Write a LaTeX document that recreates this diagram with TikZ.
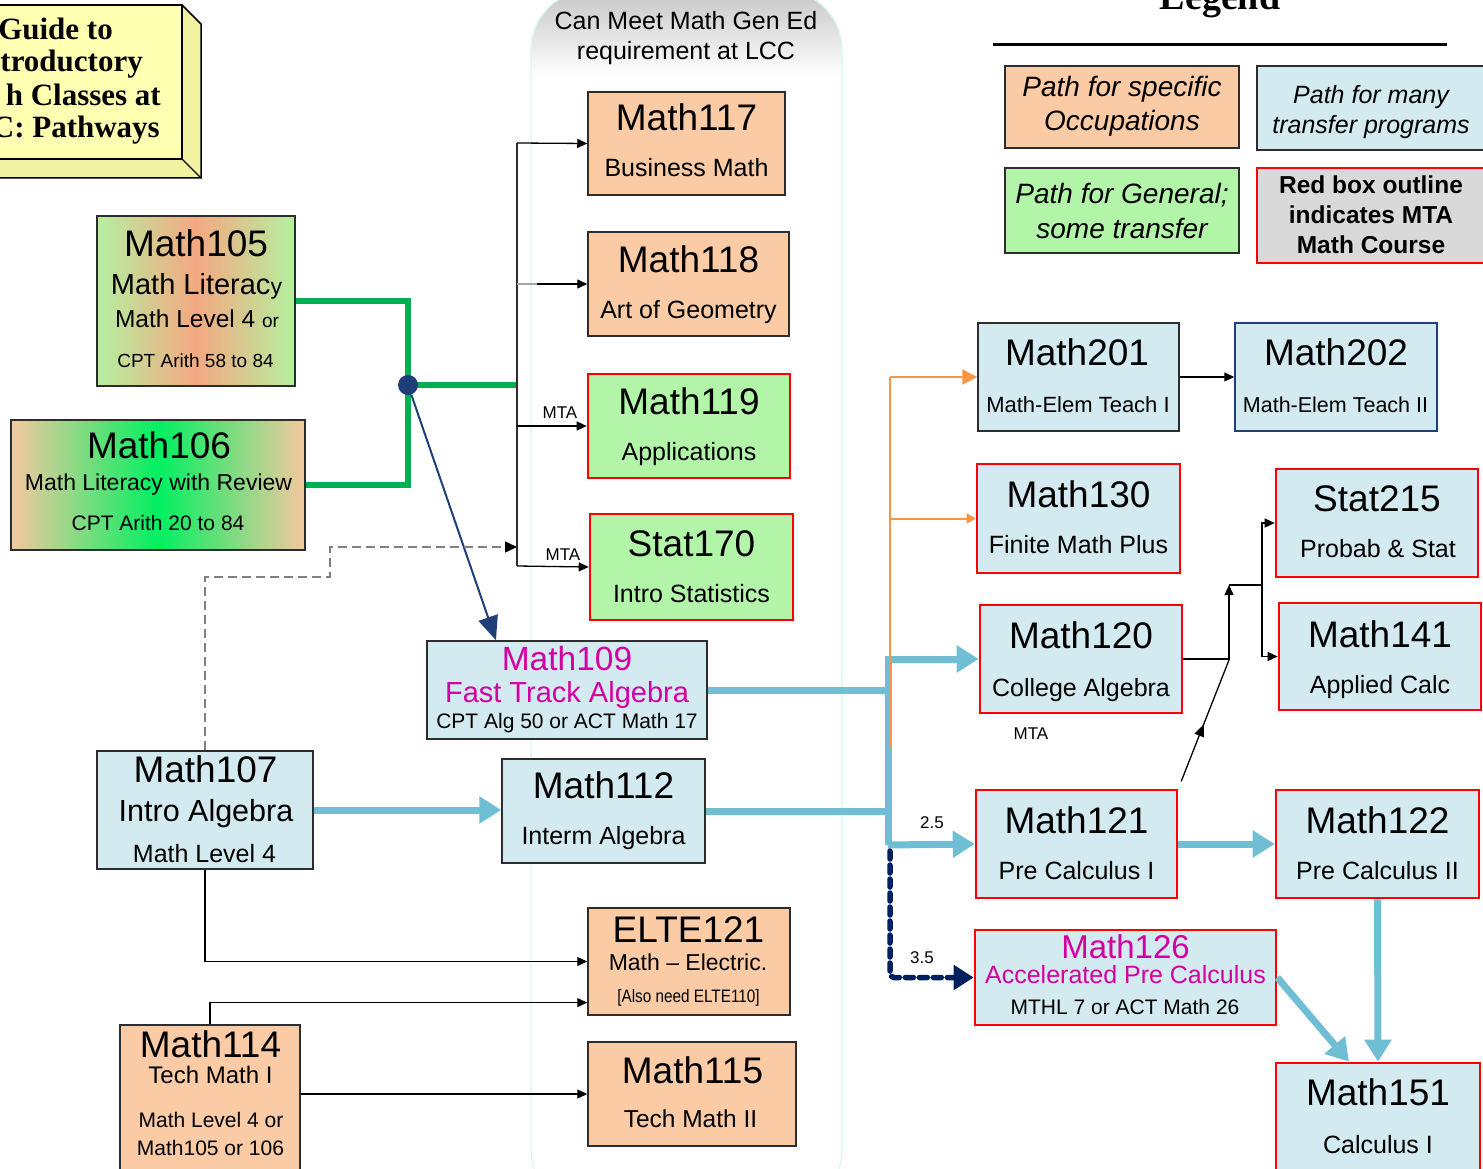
\documentclass[tikz,border=0pt]{standalone}
\usepackage{fontspec}
\setmainfont{Liberation Sans}
\newfontfamily\titlefont{Liberation Serif}
\newfontfamily\narrowfont[FakeStretch=0.85]{Liberation Sans}
\usetikzlibrary{arrows.meta,decorations.markings}
\definecolor{peach}{RGB}{250,203,165}
\definecolor{lgreen}{RGB}{178,245,168}
\definecolor{lblue}{RGB}{211,234,240}
\definecolor{lgray}{RGB}{217,217,217}
\definecolor{mred}{RGB}{255,0,0}
\definecolor{edge}{RGB}{45,45,45}
\definecolor{pathblue}{RGB}{112,190,212}
\definecolor{pathgreen}{RGB}{0,176,80}
\definecolor{pathorange}{RGB}{247,150,70}
\definecolor{hubnavy}{RGB}{31,63,120}
\definecolor{dotnavy}{RGB}{0,32,96}
\definecolor{magtext}{RGB}{210,0,160}
\definecolor{ttlyellow}{RGB}{255,255,178}
\definecolor{ttlside}{RGB}{242,242,160}
\definecolor{mint}{RGB}{215,250,232}
\definecolor{lit1}{RGB}{180,240,160}
\definecolor{lit2}{RGB}{244,168,128}
\definecolor{rev1}{RGB}{246,200,160}
\definecolor{rev2}{RGB}{0,240,96}
\begin{document}
\begin{tikzpicture}[x=1pt,y=-1pt]
\tikzstyle{every node}+=[inner sep=0pt]
\tikzstyle{box}=[rectangle, draw=edge, line width=1.5pt]
\tikzstyle{occ}=[box, fill=peach]
\tikzstyle{gen}=[box, fill=lgreen]
\tikzstyle{trn}=[box, fill=lblue]
\tikzstyle{mta}=[draw=mred, line width=2.6pt]
\tikzstyle{ttl}=[anchor=base, font=\fontsize{37}{37}\selectfont]
\tikzstyle{sub}=[anchor=base, font=\fontsize{25}{25}\selectfont]
\tikzstyle{small}=[anchor=base, font=\fontsize{21}{21}\selectfont]
\tikzstyle{lbl}=[font=\fontsize{17}{17}\selectfont]
\tikzstyle{arr}=[draw=black, line width=1.3pt, -{Triangle[length=10pt,width=9pt]}]
\tikzstyle{blu}=[draw=pathblue, line width=7pt]
\tikzstyle{bluarr}=[blu, -{Triangle[length=22pt,width=26pt]}]
\tikzstyle{grn}=[draw=pathgreen, line width=6pt]
\tikzstyle{org}=[draw=pathorange, line width=2pt]
\useasboundingbox (0,0) rectangle (1483,1169);

\begin{scope}
\clip[rounded corners=60] (531,-10) rectangle (842,1210);
\fill[top color=gray!45, bottom color=white] (531,-10) rectangle (842,76);
\end{scope}
\draw[mint, line width=1.2pt, rounded corners=60] (531,-10) rectangle (842,1210);
\node[sub] (gen1) at (686,30) {Can Meet Math Gen Ed};
\node[sub] (gen2) at (686,60) {requirement at LCC};

\fill[ttlside] (182,5) -- (201,24) -- (201,178) -- (182,159) -- cycle;
\fill[ttlside] (-5,159) -- (182,159) -- (201,178) -- (-5,178) -- cycle;
\draw[line width=1.5pt] (182,5) -- (201,24) -- (201,178) -- (-5,178);
\draw[line width=1.2pt] (182,159) -- (201,178);
\draw[fill=ttlyellow, line width=1.5pt] (-5,5) rectangle (182,159);
\tikzstyle{gtl}=[anchor=base east, font=\titlefont\bfseries\fontsize{31}{31}\selectfont]
\node[gtl] (ttl1) at (113,40) {Guide to};
\node[gtl] (ttl2) at (143,72) {troductory};
\node[gtl] (ttl3) at (161,106) {h Classes at};
\node[gtl] (ttl4) at (160,138) {C: Pathways};

\node[anchor=base, font=\titlefont\bfseries\fontsize{38}{38}\selectfont] (lgdt) at (1220,10) {Legend};
\draw[line width=3pt] (993,45) -- (1447,45);

\coordinate (hubc) at (408,385);
\coordinate (bustop) at (517,143);
\coordinate (busbot) at (517,566);
\coordinate (dk1) at (330,577);
\coordinate (dk2) at (330,547);
\coordinate (trunktop) at (888,659);
\coordinate (trunkbot) at (888,845);
\coordinate (orgtop) at (890,377);
\coordinate (orgbot) at (890,748);
\coordinate (up) at (1229,585);
\coordinate (fork) at (1262,585);
\coordinate (elb) at (1229,660);

\node[occ, minimum width=197pt, minimum height=103pt] (m117) at (686.5,143.5) {};
\node[occ, minimum width=201pt, minimum height=104pt] (m118) at (688.5,284) {};
\node[gen, mta, minimum width=202pt, minimum height=104pt] (m119) at (689,426) {};
\node[gen, mta, minimum width=203pt, minimum height=106pt] (s170) at (691.5,567) {};
\node[trn, minimum width=280pt, minimum height=98pt] (m109) at (567,690) {};
\node[box, left color=lit1, right color=lit1, middle color=lit2, minimum width=198pt, minimum height=170pt] (m105) at (196,301) {};
\node[box, left color=rev1, right color=rev1, middle color=rev2, minimum width=294pt, minimum height=130pt] (m106) at (158,485) {};
\node[trn, minimum width=216pt, minimum height=118pt] (m107) at (205,810) {};
\node[trn, minimum width=203pt, minimum height=104pt] (m112) at (603.5,811) {};
\node[occ, minimum width=202pt, minimum height=107pt] (e121) at (689,961.5) {};
\node[occ, minimum width=180pt, minimum height=155pt] (m114) at (210,1102.5) {};
\node[occ, minimum width=208pt, minimum height=104pt] (m115) at (692,1094) {};
\node[trn, minimum width=201pt, minimum height=108pt] (m201) at (1078.5,377) {};
\node[trn, draw=hubnavy, minimum width=202pt, minimum height=108pt] (m202) at (1336,377) {};
\node[trn, mta, minimum width=203pt, minimum height=109pt] (m130) at (1078.5,518.5) {};
\node[trn, mta, minimum width=202pt, minimum height=108pt] (m120) at (1081,659) {};
\node[trn, mta, minimum width=201pt, minimum height=108pt] (m121) at (1076.5,844) {};
\node[trn, mta, minimum width=301pt, minimum height=95pt] (m126) at (1125.5,977.5) {};
\node[trn, mta, minimum width=202pt, minimum height=108pt] (s215) at (1377,523) {};
\node[trn, mta, minimum width=202pt, minimum height=107pt] (m141) at (1380,656.5) {};
\node[trn, mta, minimum width=203pt, minimum height=108pt] (m122) at (1377.5,844) {};
\node[trn, mta, minimum width=204pt, minimum height=122pt] (m151) at (1378,1124) {};

\node[occ, minimum width=234pt, minimum height=82pt] (lgocc) at (1122,107) {};
\node[trn, minimum width=233pt, minimum height=84pt] (lgtrn) at (1373.5,108) {};
\node[gen, minimum width=234pt, minimum height=85pt] (lggen) at (1122,210.5) {};
\node[box, fill=lgray, mta, minimum width=233pt, minimum height=95pt] (lgmta) at (1373.5,215.5) {};

\draw[grn] (m105.east) -| (hubc) |- (m106.east);
\draw[grn] (hubc) -- (hubc -| bustop);
\node[circle, fill=hubnavy, minimum size=20pt] (hub) at (hubc) {};
\draw[draw=hubnavy, line width=2pt, -{Triangle[length=24pt,width=20pt]}] (hub) -- (m109.145);

\draw[line width=1.3pt, edge] (bustop) -- (busbot);
\draw[arr] (bustop) -- (m117.west);
\draw[gray!70, line width=1.3pt] (bustop |- m118.west) -- ++(22,0);
\draw[arr] (bustop |- m118.west) ++(20,0) -- (m118.west);
\draw[arr] (bustop |- m119.west) -- (m119.west);
\draw[arr] (busbot) -- (s170.west);
\node[lbl] (mta1) at (560,413) {MTA};
\node[lbl] (mta2) at (563,555) {MTA};
\draw[draw=gray, line width=1.5pt, dash pattern=on 9pt off 5pt, -{Triangle[length=12pt,width=11pt,color=black]}] (m107.north) |- (dk1) -- (dk2) -- (bustop |- dk2);

\draw[blu] (m109.east) -- (m109.east -| trunktop);
\draw[blu] (m112.east) -- (m112.east -| trunktop);
\draw[bluarr] (m107.east) -- (m107.east -| m112.west);
\draw[bluarr] (trunkbot) -- (trunktop) -- (m120.west);
\draw[bluarr] (trunkbot) -- (m121.west);
\node[lbl] (lb25) at (932,823) {2.5};
\draw[bluarr] (m121.east) -- (m122.west);
\draw[bluarr] (m122.south) -- (m151.north);
\draw[bluarr] (m126.east) -- (m151.115);

\draw[org] (orgbot) -- (orgtop);
\draw[org, -{Triangle[length=15pt,width=15pt]}] (orgtop) -- (m201.west);
\draw[org, -{Triangle[length=9pt,width=10pt]}] (orgtop |- m130.west) -- (m130.west);

\draw[draw=dotnavy, line width=5.5pt, dash pattern=on 8pt off 6pt, line cap=round, rounded corners=4pt, -{Triangle[length=20pt,width=24pt]}] (trunkbot) ++(2,6) |- (m126.west);
\node[lbl] (lb35) at (922,958) {3.5};

\draw[arr] (m201.east) -- (m202.west);
\draw[arr] (m120.east) -| (up);
\draw[line width=1.3pt] (up) -- (fork);
\draw[arr] (fork) |- (s215.west);
\draw[arr] (fork) |- (m141.west);
\draw[line width=1.3pt, shorten <=8pt, postaction={decorate}, decoration={markings, mark=at position 0.5 with {\arrow{Triangle[length=12pt,width=10pt]}}}] (m121.north east) -- (elb);
\node[lbl] (mta3) at (1031,734) {MTA};

\draw[arr] (m107.south) |- (e121.west);
\draw[arr] (m114.north) |- (e121.202);
\draw[arr] (m114.east |- m115.west) -- (m115.west);

\node[ttl] (m117t) at (686.5,131) {Math117};
\node[sub] (m117s) at (686.5,177) {Business Math};
\node[ttl] (m118t) at (688.5,272) {Math118};
\node[sub] (m118s) at (688.5,318) {Art of Geometry};
\node[ttl] (m119t) at (689,414) {Math119};
\node[sub] (m119s) at (689,460) {Applications};
\node[ttl] (s170t) at (691.5,556) {Stat170};
\node[sub] (s170s) at (691.5,602) {Intro Statistics};
\node[anchor=base, magtext, font=\fontsize{33.5}{33.5}\selectfont] (m109t) at (567,670) {Math109};
\node[anchor=base, magtext, font=\fontsize{29}{29}\selectfont] (m109s) at (567,702) {Fast Track Algebra};
\node[small] (m109c) at (567,728) {CPT Alg 50 or ACT Math 17};
\node[ttl] (m105t) at (196,256) {Math105};
\node[anchor=base, font=\fontsize{29}{29}\selectfont] (m105s) at (196.5,294) {Math Literac{\fontsize{23}{23}\selectfont y}};
\node[anchor=base, font=\fontsize{24.5}{24.5}\selectfont] (m105l) at (197,327) {Math Level 4 {\fontsize{19}{19}\selectfont or}};
\node[anchor=base, font=\fontsize{19}{19}\selectfont] (m105c) at (195.5,367) {CPT Arith 58 to 84};
\node[ttl] (m106t) at (159,458) {Math106};
\node[anchor=base, font=\fontsize{23}{23}\selectfont] (m106s) at (158.5,490) {Math Literacy with Review};
\node[small] (m106c) at (158,530) {CPT Arith 20 to 84};
\node[ttl] (m107t) at (205.5,782) {Math107};
\node[anchor=base, font=\fontsize{30.5}{30.5}\selectfont] (m107s) at (206,821) {Intro Algebra};
\node[sub] (m107c) at (204.5,862) {Math Level 4};
\node[ttl] (m112t) at (603.5,798) {Math112};
\node[sub] (m112s) at (603.5,844) {Interm Algebra};
\node[ttl] (e121t) at (688.5,942) {ELTE121};
\node[anchor=base, font=\fontsize{23}{23}\selectfont] (e121s) at (688,970) {Math – Electric.};
\node[anchor=base, font=\narrowfont\fontsize{18}{18}\selectfont] (e121c) at (688.5,1002) {[Also need ELTE110]};
\node[ttl] (m114t) at (210.5,1057) {Math114};
\node[anchor=base, font=\fontsize{24}{24}\selectfont] (m114s) at (210.5,1083) {Tech Math I};
\node[anchor=base, font=\fontsize{21}{21}\selectfont] (m114l) at (211,1127) {Math Level 4 or};
\node[anchor=base, font=\fontsize{21}{21}\selectfont] (m114c) at (210.5,1155) {Math105 or 106};
\node[ttl] (m115t) at (692.5,1083) {Math115};
\node[anchor=base, font=\fontsize{24.5}{24.5}\selectfont] (m115s) at (690.5,1127) {Tech Math II};
\node[ttl] (m201t) at (1077,365) {Math201};
\node[anchor=base, font=\fontsize{22}{22}\selectfont] (m201s) at (1078,412) {Math-Elem Teach I};
\node[ttl] (m202t) at (1336,365) {Math202};
\node[anchor=base, font=\fontsize{21.5}{21.5}\selectfont] (m202s) at (1335.5,412) {Math-Elem Teach II};
\node[ttl] (m130t) at (1078.5,507) {Math130};
\node[sub] (m130s) at (1078.5,553) {Finite Math Plus};
\node[ttl] (m120t) at (1081,648) {Math120};
\node[sub] (m120s) at (1081,696) {College Algebra};
\node[ttl] (m121t) at (1076.5,833) {Math121};
\node[sub] (m121s) at (1076.5,879) {Pre Calculus I};
\node[anchor=base, magtext, font=\fontsize{33}{33}\selectfont] (m126t) at (1125.5,958) {Math126};
\node[anchor=base, magtext, font=\fontsize{25}{25}\selectfont] (m126s) at (1125.5,983) {Accelerated Pre Calculus};
\node[small] (m126c) at (1125,1014) {MTHL 7 or ACT Math 26};
\node[ttl] (s215t) at (1377,511) {Stat215};
\node[sub] (s215s) at (1378,557) {Probab \& Stat};
\node[ttl] (m141t) at (1380,647) {Math141};
\node[sub] (m141s) at (1380,693) {Applied Calc};
\node[ttl] (m122t) at (1377.5,833) {Math122};
\node[sub] (m122s) at (1377.5,879) {Pre Calculus II};
\node[ttl] (m151t) at (1378,1105) {Math151};
\node[sub] (m151s) at (1378,1153) {Calculus I};

\tikzstyle{lgi}=[anchor=base, font=\itshape\fontsize{28}{28}\selectfont]
\node[lgi] (lgocc1) at (1122,97) {Path for specific};
\node[lgi] (lgocc2) at (1122,131) {Occupations};
\node[lgi, font=\itshape\fontsize{25}{25}\selectfont] (lgtrn1) at (1371,104) {Path for many};
\node[lgi, font=\itshape\fontsize{25}{25}\selectfont] (lgtrn2) at (1371,134) {transfer programs};
\node[lgi] (lggen1) at (1122,204) {Path for General;};
\node[lgi] (lggen2) at (1122,238) {some transfer};
\tikzstyle{lgb}=[anchor=base, font=\bfseries\fontsize{24.5}{24.5}\selectfont]
\node[lgb] (lgmta1) at (1371,194) {Red box outline};
\node[lgb] (lgmta2) at (1371,224) {indicates MTA};
\node[lgb] (lgmta3) at (1371,254) {Math Course};
\end{tikzpicture}
\end{document}
